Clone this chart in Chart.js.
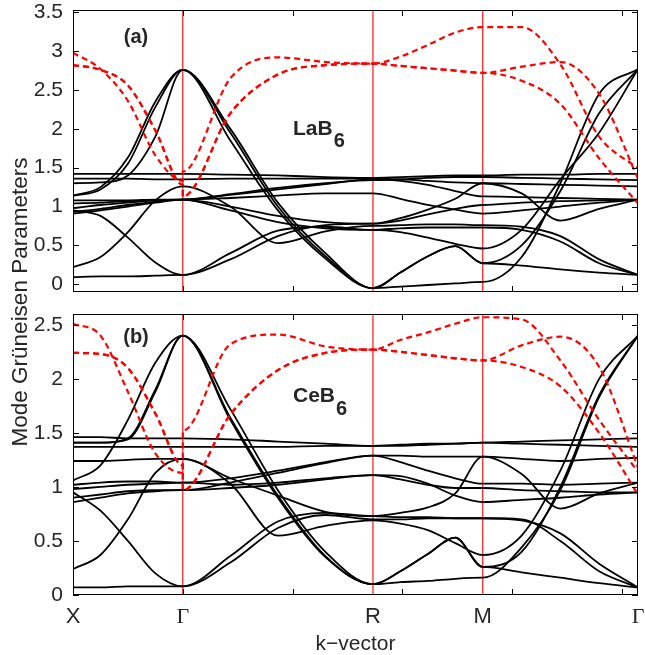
<!DOCTYPE html>
<html><head><meta charset="utf-8">
<script src="https://cdn.jsdelivr.net/npm/chart.js@4"></script>
<style>
html,body{margin:0;padding:0;background:#fff;}
#wrap{position:relative;width:645px;height:655px;background:#fff;}
canvas{position:absolute;left:0;top:0;}
</style></head><body>
<div id="wrap"><canvas id="cTop" width="645" height="655"></canvas><canvas id="cBot" width="645" height="655"></canvas></div>
<script>
// k-path samples: X–Γ, Γ–R, R–M, M–Γ (5 samples per segment)
const kGrid = [0,0.125,0.25,0.375,0.5, 0.5,0.7165,0.933,1.1495,1.366, 1.366,1.491,1.616,1.741,1.866, 1.866,2.043,2.2195,2.396,2.573];
const symK = [0, 0.5, 1.366, 1.866, 2.573];
const symLabels = ['X','Γ','R','M','Γ'];
const xMinorTicks = [0.5,1,1.5,2,2.5];
const yTicksLa = [0,0.5,1,1.5,2,2.5,3,3.5];
const yTicksCe = [0,0.5,1,1.5,2,2.5];

// LaB6 optical branches (black)
const la1 = [1.42,1.42,1.42,1.42,1.42, 1.42,1.41,1.40,1.38,1.37, 1.37,1.38,1.39,1.40,1.40, 1.40,1.41,1.41,1.42,1.42];
const la2 = [1.36,1.36,1.36,1.35,1.35, 1.35,1.36,1.36,1.36,1.36, 1.36,1.35,1.37,1.38,1.38, 1.38,1.37,1.36,1.35,1.34];
const la3 = [1.30,1.31,1.40,1.90,2.76, 2.76,2.00,1.05,0.40,-0.05, -0.05,-0.03,-0.01,0.01,0.03, 0.03,0.35,1.30,2.45,2.77];
const la4 = [1.14,1.25,1.63,2.35,2.76, 2.76,1.85,0.95,0.33,-0.05, -0.05,0.15,0.36,0.49,0.27, 0.27,0.50,1.20,2.20,2.77];
const la5 = [0.22,0.35,0.67,1.08,1.26, 1.26,1.00,0.53,0.68,0.75, 0.75,0.76,0.77,0.77,0.76, 0.76,0.74,0.62,0.32,0.12];
const la6 = [0.95,0.88,0.60,0.28,0.12, 0.12,0.32,0.62,0.76,0.78, 0.78,0.85,0.96,1.10,1.30, 1.30,1.17,0.82,0.97,1.09];
const la7 = [0.09,0.10,0.10,0.11,0.12, 0.12,0.40,0.69,0.74,0.70, 0.70,0.67,0.60,0.52,0.46, 0.46,0.70,1.35,1.95,2.77];
const la8 = [1.08,1.08,1.08,1.09,1.09, 1.09,1.15,1.22,1.29,1.35, 1.35,1.33,1.28,1.20,1.13, 1.13,1.12,1.11,1.10,1.09];
const la9 = [1.04,1.05,1.07,1.08,1.09, 1.09,1.16,1.24,1.30,1.34, 1.34,1.35,1.33,1.31,1.30, 1.30,1.29,1.28,1.27,1.26];
const la10 = [0.98,1.02,1.05,1.08,1.09, 1.09,1.11,1.14,1.17,1.17, 1.17,1.10,1.02,0.96,0.91, 0.91,0.95,1.00,1.05,1.09];
const la11 = [0.93,0.97,1.02,1.06,1.09, 1.09,1.00,0.88,0.80,0.78, 0.78,0.82,0.90,0.97,1.02, 1.02,1.05,1.07,1.08,1.09];
const la12 = [0.91,0.95,1.00,1.05,1.09, 1.09,0.95,0.80,0.72,0.70, 0.70,0.72,0.73,0.73,0.73, 0.73,0.70,0.55,0.27,0.12];
const la13 = [1.14,1.22,1.55,2.28,2.76, 2.76,1.95,1.00,0.36,-0.05, -0.05,0.15,0.36,0.49,0.27, 0.27,0.24,0.19,0.15,0.12];
// LaB6 acoustic branches (red dashed)
const laAc1 = [2.98,2.77,2.36,1.66,1.33, 1.45,2.65,2.92,2.86,2.84, 2.84,2.93,3.08,3.24,3.31, 3.31,3.31,2.83,1.90,1.49];
const laAc2 = [2.82,2.76,2.56,1.98,1.28, 1.13,2.20,2.70,2.82,2.84, 2.84,2.81,2.78,2.75,2.72, 2.72,2.80,2.86,2.45,1.36];
const laAc3 = [2.82,2.76,2.56,1.98,1.28, 1.13,2.20,2.70,2.82,2.84, 2.84,2.81,2.78,2.75,2.72, 2.72,2.62,2.32,1.62,1.04];

// CeB6 optical branches (black)
const ce1 = [1.06,1.20,1.62,2.15,2.40, 2.40,1.62,0.90,0.35,0.10, 0.10,0.12,0.13,0.15,0.16, 0.16,0.44,0.97,1.83,2.40];
const ce2 = [1.24,1.24,1.25,1.26,1.26, 1.26,1.03,0.55,0.64,0.69, 0.69,0.66,0.60,0.48,0.37, 0.37,0.55,1.15,2.00,2.40];
const ce3 = [1.41,1.41,1.45,1.90,2.40, 2.40,1.72,0.97,0.40,0.10, 0.10,0.22,0.38,0.53,0.26, 0.26,0.40,1.00,1.85,2.40];
const ce4 = [1.41,1.41,1.44,1.88,2.40, 2.40,1.64,0.92,0.36,0.10, 0.10,0.22,0.38,0.53,0.26, 0.26,0.21,0.16,0.11,0.07];
const ce5 = [0.95,0.78,0.50,0.20,0.08, 0.08,0.30,0.62,0.74,0.70, 0.70,0.70,0.71,0.71,0.71, 0.71,0.69,0.57,0.29,0.07];
const ce6 = [0.07,0.07,0.08,0.08,0.08, 0.08,0.36,0.68,0.76,0.73, 0.73,0.72,0.72,0.71,0.71, 0.71,0.70,0.50,0.22,0.07];
const ce7 = [0.98,1.00,1.02,1.03,1.04, 1.04,1.02,1.04,1.08,1.11, 1.11,1.10,1.03,0.92,0.86, 0.86,0.88,0.90,0.93,0.95];
const ce8 = [0.86,0.90,0.94,0.96,0.97, 0.97,0.99,1.02,1.07,1.11, 1.11,1.07,1.02,0.99,0.99, 0.99,0.97,0.96,0.95,0.95];
const ce9 = [1.02,1.04,1.05,1.05,1.04, 1.04,1.08,1.15,1.23,1.29, 1.29,1.23,1.15,1.08,1.03, 1.03,1.03,1.02,1.03,1.04];
const ce10 = [0.24,0.37,0.70,1.13,1.26, 1.26,1.08,0.92,0.77,0.73, 0.73,0.76,0.81,0.94,1.28, 1.28,1.12,0.80,0.94,1.04];
const ce11 = [0.90,0.93,0.96,0.97,0.97, 0.97,1.04,1.13,1.22,1.29, 1.29,1.29,1.28,1.28,1.28, 1.28,1.26,1.24,1.26,1.27];
const ce12 = [1.46,1.46,1.45,1.45,1.45, 1.45,1.44,1.42,1.40,1.38, 1.38,1.39,1.40,1.40,1.41, 1.41,1.42,1.43,1.44,1.45];
const ce13 = [1.37,1.37,1.37,1.37,1.37, 1.37,1.37,1.37,1.38,1.38, 1.38,1.38,1.39,1.40,1.41, 1.41,1.40,1.39,1.38,1.37];
// CeB6 acoustic branches (red dashed)
const ceAc1 = [2.51,2.40,1.88,1.31,1.13, 1.52,2.32,2.41,2.30,2.27, 2.27,2.36,2.43,2.51,2.57, 2.57,2.55,2.17,1.62,1.14];
const ceAc2 = [2.24,2.23,2.10,1.68,1.20, 0.97,1.67,2.08,2.24,2.27, 2.27,2.25,2.22,2.19,2.17, 2.17,2.31,2.39,2.11,1.18];
const ceAc3 = [2.24,2.23,2.10,1.68,1.20, 0.97,1.67,2.08,2.24,2.27, 2.27,2.25,2.22,2.19,2.17, 2.17,2.11,1.93,1.50,0.93];

const laBlack = [la1,la2,la3,la4,la5,la6,la7,la8,la9,la10,la11,la12,la13];
const laRed = [laAc1,laAc2,laAc3];
const ceBlack = [ce1,ce2,ce3,ce4,ce5,ce6,ce7,ce8,ce9,ce10,ce11,ce12,ce13];
const ceRed = [ceAc1,ceAc2,ceAc3];

const SANS = '"Liberation Sans", Arial, Helvetica, sans-serif';
const SERIF = '"Liberation Serif", "Times New Roman", serif';
const TXT = '#262626';

function branch(vals, red) {
  return {
    data: vals.map((v, i) => ({x: kGrid[i], y: v})),
    showLine: true, pointRadius: 0, fill: false,
    cubicInterpolationMode: 'monotone',
    borderColor: red ? '#ff0000' : '#000000',
    borderWidth: red ? 2.2 : 1.8,
    borderDash: red ? [6, 4] : [],
    order: red ? 0 : 1
  };
}
function datasets(black, red) {
  return black.map(v => branch(v, false)).concat(red.map(v => branch(v, true)));
}

const framePlugin = {
  id: 'frame',
  beforeDatasetsDraw(chart, args, o) {
    const {ctx, chartArea: a} = chart; const x = chart.scales.x;
    ctx.save(); ctx.strokeStyle = '#ff0000'; ctx.lineWidth = 1.1;
    for (const k of symK.slice(1, 4)) {
      const px = x.getPixelForValue(k);
      ctx.beginPath(); ctx.moveTo(px, a.top); ctx.lineTo(px, a.bottom); ctx.stroke();
    }
    ctx.restore();
  },
  afterDatasetsDraw(chart, args, o) {
    const {ctx, chartArea: a} = chart; const x = chart.scales.x, y = chart.scales.y;
    ctx.save();
    ctx.strokeStyle = '#000'; ctx.lineWidth = 1;
    ctx.strokeRect(a.left + 0.5, a.top + 0.5, a.right - a.left - 1, a.bottom - a.top - 1);
    ctx.beginPath();
    for (const v of o.yTicks) {
      const py = Math.round(y.getPixelForValue(v)) + 0.5;
      ctx.moveTo(a.left, py); ctx.lineTo(a.left + 6, py);
      ctx.moveTo(a.right, py); ctx.lineTo(a.right - 6, py);
    }
    for (const k of xMinorTicks) {
      const px = Math.round(x.getPixelForValue(k)) + 0.5;
      ctx.moveTo(px, a.top); ctx.lineTo(px, a.top + 6);
      ctx.moveTo(px, a.bottom); ctx.lineTo(px, a.bottom - 6);
    }
    ctx.stroke();
    ctx.fillStyle = TXT;
    ctx.textBaseline = 'alphabetic';
    ctx.textAlign = 'center';
    ctx.font = 'bold 20px ' + SANS;
    ctx.fillText(o.panel, o.panelX, o.panelY);
    ctx.textAlign = 'left';
    ctx.font = 'bold 21px ' + SANS;
    ctx.fillText(o.comp, o.compX, o.compY);
    const w = ctx.measureText(o.comp).width;
    ctx.font = 'bold 20px ' + SANS;
    ctx.fillText(o.sub, o.compX + w + 1, o.subY);
    if (o.yTitle) {
      ctx.translate(o.yTitleX, o.yTitleY);
      ctx.rotate(-Math.PI / 2);
      ctx.textAlign = 'center'; ctx.textBaseline = 'alphabetic';
      ctx.font = '22.5px ' + SANS;
      ctx.fillText(o.yTitle, 0, 0);
    }
    ctx.restore();
  }
};

function yScale(min, max, ticks) {
  return {
    type: 'linear', min: min, max: max,
    afterBuildTicks: s => { s.ticks = ticks.map(v => ({value: v})); },
    afterFit: s => { s.width = 73; s.paddingTop = 0; s.paddingBottom = 0; },
    grid: {display: false, drawTicks: false}, border: {display: false},
    ticks: {color: TXT, padding: 10, font: {family: SANS, size: 21, lineHeight: 1}, callback: v => String(v)}
  };
}

new Chart(document.getElementById('cTop'), {
  type: 'scatter',
  data: {datasets: datasets(laBlack, laRed)},
  options: {
    responsive: false, animation: false, events: [],
    layout: {padding: {left: 0, right: 7, top: 10, bottom: 363}},
    plugins: {
      legend: {display: false}, tooltip: {enabled: false},
      frame: {yTicks: yTicksLa, panel: '(a)', panelX: 136, panelY: 43, comp: 'LaB', sub: '6', compX: 293, compY: 135, subY: 147,
              yTitle: 'Mode Grüneisen Parameters', yTitleX: 27, yTitleY: 302}
    },
    scales: {
      x: {type: 'linear', min: 0, max: 2.573, display: false},
      y: yScale(-0.1, 3.53, yTicksLa)
    }
  },
  plugins: [framePlugin]
});

new Chart(document.getElementById('cBot'), {
  type: 'scatter',
  data: {datasets: datasets(ceBlack, ceRed)},
  options: {
    responsive: false, animation: false, events: [],
    layout: {padding: {left: 0, right: 7, top: 314, bottom: 0}},
    plugins: {
      legend: {display: false}, tooltip: {enabled: false},
      frame: {yTicks: yTicksCe, panel: '(b)', panelX: 136, panelY: 343, comp: 'CeB', sub: '6', compX: 293, compY: 402, subY: 415, yTitle: null}
    },
    scales: {
      x: {
        type: 'linear', min: 0, max: 2.573,
        afterBuildTicks: s => { s.ticks = symK.map(v => ({value: v})); },
        afterFit: s => { s.height = 60; s.paddingLeft = 0; s.paddingRight = 0; },
        grid: {display: false, drawTicks: false}, border: {display: false},
        ticks: {
          autoSkip: false, maxRotation: 0, padding: 9, color: TXT,
          font: c => ({family: symLabels[c.index] === 'Γ' ? SERIF : SANS, size: 22}),
          callback: (v, i) => symLabels[i]
        },
        title: {display: true, text: 'k−vector', color: TXT, font: {family: SANS, size: 21}, padding: {top: 0, bottom: -2}}
      },
      y: yScale(0, 2.6, yTicksCe)
    }
  },
  plugins: [framePlugin]
});
</script>
</body></html>
